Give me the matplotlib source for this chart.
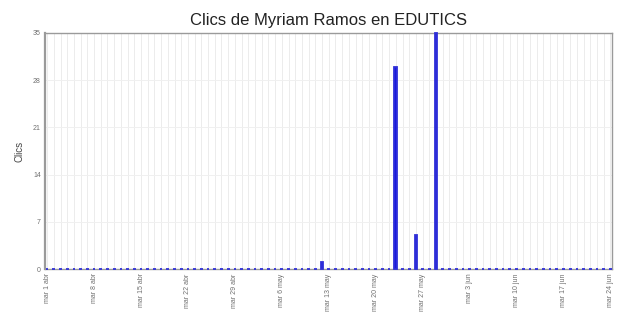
import numpy as np
import pandas as pd
import matplotlib
matplotlib.use("Agg")
import matplotlib.pyplot as plt

plt.rcParams["font.family"] = ["Liberation Sans", "DejaVu Sans"]

# ── Data ───────────────────────────────────────────────────────────────────
start_day = "2008-04-01"
# clics per day, one row per week (mar 1 abr .. mar 24 jun)
clicks = [
    0, 0, 0, 0, 0, 0, 0,   # 1 abr
    0, 0, 0, 0, 0, 0, 0,   # 8 abr
    0, 0, 0, 0, 0, 0, 0,   # 15 abr
    0, 0, 0, 0, 0, 0, 0,   # 22 abr
    0, 0, 0, 0, 0, 0, 0,   # 29 abr
    0, 0, 0, 0, 0, 0, 1,   # 6 may
    0, 0, 0, 0, 0, 0, 0,   # 13 may
    0, 0, 0, 30, 0, 0, 5,  # 20 may
    0, 0, 35, 0, 0, 0, 0,  # 27 may
    0, 0, 0, 0, 0, 0, 0,   # 3 jun
    0, 0, 0, 0, 0, 0, 0,   # 10 jun
    0, 0, 0, 0, 0, 0, 0,   # 17 jun
    0,                     # 24 jun
]
tick_labels = ["mar 1 abr", "mar 8 abr", "mar 15 abr", "mar 22 abr", "mar 29 abr",
               "mar 6 may", "mar 13 may", "mar 20 may", "mar 27 may",
               "mar 3 jun", "mar 10 jun", "mar 17 jun", "mar 24 jun"]
y_ticks = [0, 7, 14, 21, 28, 35]

days = pd.date_range(start_day, periods=len(clicks), freq="D")
x = np.arange(len(days))

# ── Chart ──────────────────────────────────────────────────────────────────
fig = plt.figure(figsize=(6.18, 3.2), dpi=100, facecolor="white")
ax = fig.add_axes([0.073, 0.159, 0.918, 0.738])

bars = ax.bar(x, clicks, width=0.4, color="#1818e0", edgecolor="#3030d8",
              linewidth=1.3, zorder=4)
for b in bars:
    b.set_clip_on(False)

ax.set_xlim(-0.3, len(clicks) - 1 + 0.3)
ax.set_ylim(0, 35)
ax.set_xticks(x[::7])
ax.set_xticklabels(tick_labels, rotation=90, fontsize=5, color="#707070")
ax.set_xticks(x, minor=True)
ax.set_yticks(y_ticks)
ax.set_yticklabels([str(v) for v in y_ticks], fontsize=5, color="#707070")
ax.tick_params(axis="both", length=0, pad=3)
ax.tick_params(axis="x", which="minor", length=0)

ax.grid(axis="x", which="both", color="#ececec", linewidth=0.7, zorder=0)
ax.grid(axis="y", color="#f0f0f0", linewidth=0.7, zorder=0)

for name, spine in ax.spines.items():
    spine.set_color("#9a9a9a")
    spine.set_linewidth(1.0)
    spine.set_zorder(3)
ax.spines["left"].set_linewidth(1.6)

ax.set_ylabel("Clics", fontsize=7, color="#444444", labelpad=6)
ax.set_title("Clics de Myriam Ramos en EDUTICS", fontsize=12, color="#222222", pad=6)

fig.savefig("out.png", dpi=100, facecolor="white")
plt.close(fig)
